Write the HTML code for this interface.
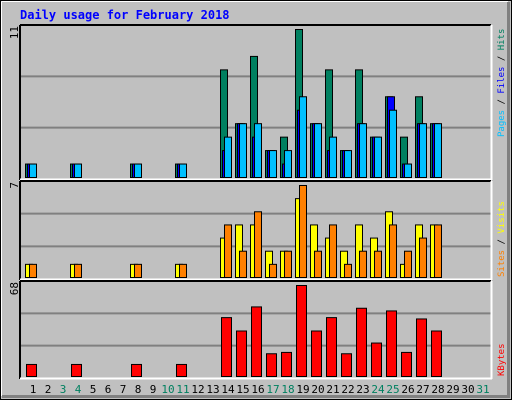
<!DOCTYPE html>
<html><head><meta charset="utf-8"><style>
html,body{margin:0;padding:0;background:#c0c0c0}
svg{display:block}
text{font-family:"DejaVu Sans Mono","Liberation Mono",monospace}
</style></head><body>
<svg id="chart" width="512" height="400" viewBox="0 0 512 400" xmlns="http://www.w3.org/2000/svg">
<rect x="0" y="0" width="512" height="400" fill="#c0c0c0"/>
<rect x="0.5" y="0.5" width="511" height="399" fill="none" stroke="#000"/>
<line x1="1.5" y1="1.5" x2="1.5" y2="396" stroke="#fff"/>
<line x1="1.5" y1="1.5" x2="508" y2="1.5" stroke="#fff"/>
<rect x="507" y="2" width="3" height="396" fill="#808080"/>
<rect x="2" y="395" width="508" height="3" fill="#808080"/>
<text x="20" y="19" font-size="12" font-weight="bold" fill="#0000ff">Daily usage for February 2018</text>
<g id="g"></g>
</svg>
<script>
const days = [1,2,3,4,5,6,7,8,9,10,11,12,13,14,15,16,17,18,19,20,21,22,23,24,25,26,27,28,29,30,31];
const weekendDays = [3,4,10,11,17,18,24,25,31];
const hits   = [1,0,0,1,0,0,0,1,0,0,1,0,0,8,4,9,2,3,11,4,8,2,8,3,6,3,6,4,0,0,0];
const files  = [1,0,0,1,0,0,0,1,0,0,1,0,0,2,4,3,2,1,5,4,2,2,4,3,6,1,4,4,0,0,0];
const pages  = [1,0,0,1,0,0,0,1,0,0,1,0,0,3,4,4,2,2,6,4,3,2,4,3,5,1,4,4,0,0,0];
const visits = [1,0,0,1,0,0,0,1,0,0,1,0,0,3,4,4,2,2,6,4,3,2,4,3,5,1,4,4,0,0,0];
const sites  = [1,0,0,1,0,0,0,1,0,0,1,0,0,4,2,5,1,2,7,2,4,1,2,2,4,2,3,4,0,0,0];
const kbytes = [9,0,0,9,0,0,0,9,0,0,9,0,0,44,34,52,17,18,68,34,44,17,51,25,49,18,43,34,0,0,0];
const maxLabels = ["11","7","68"];

const NS="http://www.w3.org/2000/svg";
const g=document.getElementById('g');
function mk(tag,attrs,parent){const e=document.createElementNS(NS,tag);for(const k in attrs)e.setAttribute(k,attrs[k]);(parent||g).appendChild(e);return e;}
const X0=20,X1=491;
const panels=[{top:25,bot:177,max:11,h:148},{top:181,bot:277,max:7,h:92},{top:281,bot:376,max:68,h:91}];
function xDay(i){return 25+15*i;}
panels.forEach((p,pi)=>{
  const r=mk('rect',{x:X0,y:p.top,width:X1-X0,height:p.bot-p.top+2,fill:'#c0c0c0'});
  
  
  for(let k=1;k<3;k++){const yy=p.top+(p.bot-p.top+2)*k/3;
    const l=mk('line',{x1:X0,x2:X1,y1:yy,y2:yy,stroke:'#808080','stroke-width':2});
    
    }
  const t=mk('line',{x1:X0,x2:X1,y1:p.top,y2:p.top,stroke:'#000','stroke-width':2});
  
  
  const lf=mk('line',{x1:X0,x2:X0,y1:p.top,y2:p.bot+3,stroke:'#000','stroke-width':2});
  
  
  const b=mk('line',{x1:X0,x2:X1+1,y1:p.bot+2.5,y2:p.bot+2.5,stroke:'#fff','stroke-width':2});
  
  
  const rt=mk('line',{x1:X1+0.5,x2:X1+0.5,y1:p.top,y2:p.bot+3,stroke:'#fff','stroke-width':2});
  
  
  const ml=mk('text',{x:0,y:0,'font-size':11,fill:'#000','text-anchor':'end',transform:`translate(18,${p.top+1}) rotate(-90)`});
  ml.textContent=maxLabels[pi];
  
  
});
function yScale(p,v){return p.h*v/p.max;}
function bar(p,x,w,v,color,name){
  if(!v)return;
  const h=yScale(p,v);
  const r=mk('rect',{x:x+0.5,y:p.bot-h+0.5,width:w-1,height:h,fill:color,stroke:'#000','stroke-width':1});
  
  
}
days.forEach((d,i)=>{
  const x=xDay(i);
  bar(panels[0],x,8,hits[i],'#008060','bar-hits-day-'+d);
  bar(panels[0],x+2,8,files[i],'#0000ff','bar-files-day-'+d);
  bar(panels[0],x+4,8,pages[i],'#00c0ff','bar-pages-day-'+d);
  bar(panels[1],x,8,visits[i],'#ffff00','bar-visits-day-'+d);
  bar(panels[1],x+4,8,sites[i],'#ff8000','bar-sites-day-'+d);
  bar(panels[2],x+1,11,kbytes[i],'#ff0000','bar-kbytes-day-'+d);
  const t=mk('text',{x:x+8,y:393,'font-size':11,'text-anchor':'middle',fill:weekendDays.includes(d)?'#008060':'#000'});
  t.textContent=d;
  
  
});
function legend(yBottom,parts,name){
  const t=mk('text',{x:0,y:0,'font-size':9,transform:`translate(504,${yBottom}) rotate(-90)`,'xml:space':'preserve'});
  
  
  parts.forEach(([s,c])=>{const sp=mk('tspan',{fill:c},t);sp.textContent=s;});
}
legend(137,[['Pages','#00c0ff'],['\u00a0/\u00a0','#000'],['Files','#0000ff'],['\u00a0/\u00a0','#000'],['Hits','#008060']],'legend-pages-files-hits');
legend(277,[['Sites','#ff8000'],['\u00a0/\u00a0','#000'],['Visits','#ffff00']],'legend-sites-visits');
legend(376,[['KBytes','#ff0000']],'legend-kbytes');
</script>
</body></html>
